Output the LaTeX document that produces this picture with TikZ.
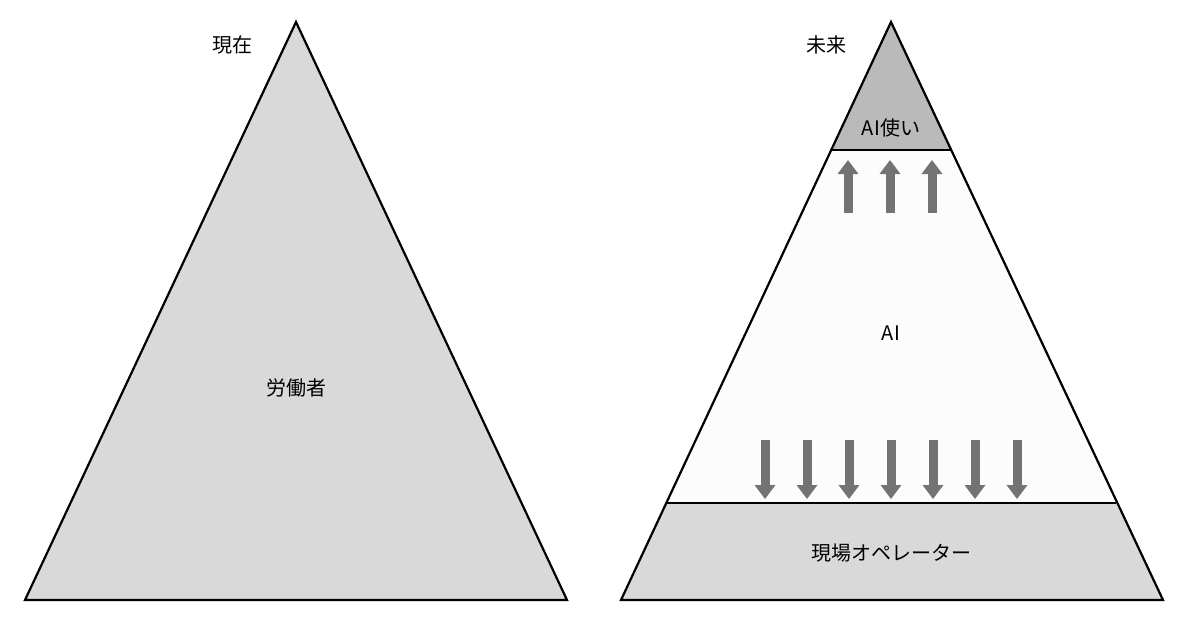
\documentclass[tikz,border=0pt]{standalone}
\usepackage{fontspec}
\setmainfont{Noto Sans CJK JP}
\usetikzlibrary{arrows.meta}
\begin{document}
\begin{tikzpicture}[x=1pt,y=-1pt,
  lbl/.style={font=\fontsize{20}{24}\selectfont, inner sep=0pt},
  edge/.style={draw=black, line width=2.2pt, line join=miter},
  arr/.style={draw=gray!90!black, color=gray!90!black, line width=9pt, -{Triangle[width=20pt,length=14pt]}}]
\useasboundingbox (0,0) rectangle (1200,627);
\fill[white] (0,0) rectangle (1200,627);
% left
\coordinate (LA) at (296,22); \coordinate (LB) at (25,600); \coordinate (LC) at (567,600);
\filldraw[fill=black!15, edge] (LA) -- (LB) -- (LC) -- cycle;
\node[lbl] (genzai) at (232,45) {現在};
\node[lbl] (rodo) at (296,388) {労働者};
% right
\coordinate (RA) at (891,22); \coordinate (RB) at (621,600); \coordinate (RC) at (1163,600);
\coordinate (T1) at (831.2,150); \coordinate (T2) at (950.8,150);
\coordinate (B1) at (666.3,503); \coordinate (B2) at (1115.7,503);
\fill[black!27] (RA) -- (T1) -- (T2) -- cycle;
\fill[black!1] (T1) -- (B1) -- (B2) -- (T2) -- cycle;
\fill[black!15] (B1) -- (RB) -- (RC) -- (B2) -- cycle;
\draw[edge] (RA) -- (RB) -- (RC) -- cycle;
\draw[edge] (T1) -- (T2);
\draw[edge] (B1) -- (B2);
\node[lbl] (mirai) at (826,45) {未来};
\node[lbl] (aitsukai) at (891,128) {AI使い};
\node[lbl] (ai) at (891,333) {AI};
\node[lbl] (genba) at (891,553) {現場オペレーター};
\foreach \x in {848,890,932} \draw[arr] (\x,213) -- (\x,160);
\foreach \x in {765,807,849,891,933,975,1017} \draw[arr] (\x,440) -- (\x,499);
\end{tikzpicture}
\end{document}
